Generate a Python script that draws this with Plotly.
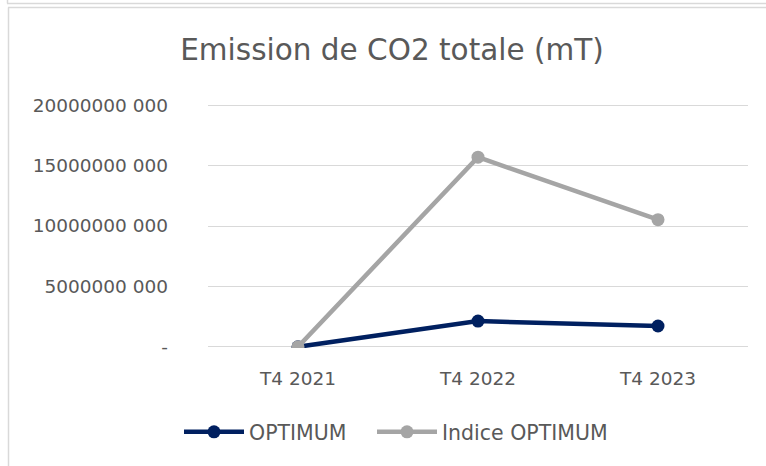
import plotly.graph_objects as go

periods = ["T4 2021", "T4 2022", "T4 2023"]
optimum = [0, 2.13e9, 1.72e9]
indice_optimum = [0, 15.7e9, 10.52e9]
tick_vals = [0, 5e9, 10e9, 15e9, 20e9]
tick_text = ["-", "5000000 000", "10000000 000", "15000000 000", "20000000 000"]

FONT = "DejaVu Sans, Verdana, sans-serif"
TXT = "#595959"
GRID = "#d9d9d9"

W, H = 766, 466
L, R, T, B = 208, 18, 104, 118
PW, PH = W - L - R, H - T - B


def px(x):
    return (x - L) / PW


def py(y):
    return (H - B - y) / PH


fig = go.Figure()
fig.add_trace(go.Scatter(
    x=periods, y=optimum, name="OPTIMUM", mode="lines+markers",
    line=dict(color="#002060", width=4.5), marker=dict(size=13, color="#002060"),
    legend="legend",
))
fig.add_trace(go.Scatter(
    x=periods, y=indice_optimum, name="Indice OPTIMUM", mode="lines+markers",
    line=dict(color="#a5a5a5", width=4.5), marker=dict(size=13, color="#a5a5a5"),
    legend="legend2",
))

# frame lines around the chart (Excel chart border, cropped)
frame = [
    (7.5, 0, 7.5, 3.5),
    (7, 3.5, 766, 3.5),
    (8, 7.5, 766, 7.5),
    (8.5, 7.5, 8.5, 466),
]
for x0, y0, x1, y1 in frame:
    fig.add_shape(type="line", xref="paper", yref="paper",
                  x0=px(x0), y0=py(y0), x1=px(x1), y1=py(y1),
                  line=dict(color=GRID, width=1.5))

legend_style = dict(orientation="h", xanchor="left", y=py(432), yanchor="middle",
                    itemwidth=60, font=dict(size=20.5))

fig.update_layout(
    width=W, height=H,
    margin=dict(l=L, r=R, t=T, b=B, autoexpand=False),
    paper_bgcolor="white", plot_bgcolor="white",
    font=dict(family=FONT, color=TXT, size=18.5),
    title=dict(text="Emission de CO2 totale (mT)", x=392 / W, xanchor="center",
               y=1 - 50 / H, yanchor="middle", font=dict(size=29.5, color=TXT)),
    xaxis=dict(showgrid=False, showline=False, ticks="", ticklabelstandoff=17,
               range=[-0.5, 2.5]),
    yaxis=dict(range=[-0.1e9, 20.1e9], tickvals=tick_vals, ticktext=tick_text,
               showgrid=True, gridcolor=GRID, gridwidth=1.3, zeroline=False,
               showline=False, ticks="", ticklabelstandoff=39),
    legend=dict(x=px(179), **legend_style),
    legend2=dict(x=px(372), **legend_style),
    showlegend=True,
)

fig.write_html("out.html", config={"displayModeBar": False},
               post_script="document.body.style.margin='0';")
